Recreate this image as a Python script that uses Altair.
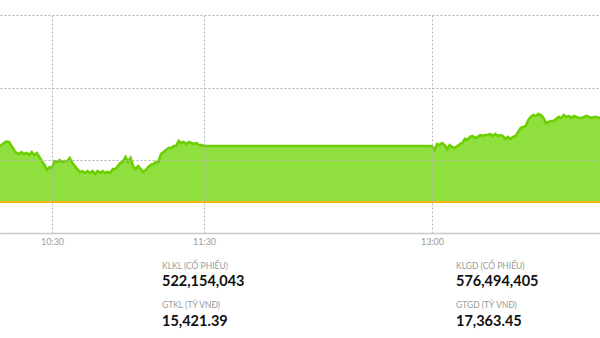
import altair as alt
import pandas as pd

# Intraday index readings (time, value)
times = [
    "10:09", "10:10", "10:11", "10:12", "10:13", "10:14", "10:15", "10:16", "10:17", "10:18", "10:19",
    "10:20", "10:21", "10:22", "10:23", "10:24", "10:25", "10:26", "10:27", "10:28", "10:29",
    "10:30", "10:31", "10:32", "10:33", "10:34", "10:35", "10:36", "10:37", "10:38", "10:39",
    "10:40", "10:41", "10:42", "10:43", "10:44", "10:45", "10:46", "10:47", "10:48", "10:49",
    "10:50", "10:51", "10:52", "10:53", "10:54", "10:55", "10:56", "10:57", "10:58", "10:59",
    "11:00", "11:01", "11:02", "11:03", "11:04", "11:05", "11:06", "11:07", "11:08", "11:09",
    "11:10", "11:11", "11:12", "11:13", "11:14", "11:15", "11:16", "11:17", "11:18", "11:19",
    "11:20", "11:21", "11:22", "11:23", "11:24", "11:25", "11:26", "11:27", "11:28", "11:29",
    "11:30", "13:00",
    "13:01", "13:02", "13:03", "13:04", "13:05", "13:06", "13:07", "13:08", "13:09", "13:10",
    "13:11", "13:12", "13:13", "13:14", "13:15", "13:16", "13:17", "13:18", "13:19", "13:20",
    "13:21", "13:22", "13:23", "13:24", "13:25", "13:26", "13:27", "13:28", "13:29", "13:30",
    "13:31", "13:32", "13:33", "13:34", "13:35", "13:36", "13:37", "13:38", "13:39", "13:40",
    "13:41", "13:42", "13:43", "13:44", "13:45", "13:46", "13:47", "13:48", "13:49", "13:50",
    "13:51", "13:52", "13:53", "13:54", "13:55", "13:56", "13:57", "13:58", "13:59", "14:00",
    "14:01", "14:02", "14:03", "14:04", "14:05", "14:06", "14:07",
]
values = [
    1180.92, 1181.05, 1181.19, 1181.30, 1181.26, 1180.99, 1180.71, 1180.50, 1180.44, 1180.57, 1180.44,
    1180.50, 1180.37, 1180.57, 1180.37, 1180.50, 1180.23, 1179.95, 1179.68, 1179.33, 1179.54,
    1179.47, 1179.95, 1179.89, 1180.02, 1179.89, 1179.95, 1179.95, 1180.16, 1179.82, 1179.61,
    1179.40, 1179.20, 1179.26, 1179.13, 1179.26, 1179.13, 1179.26, 1179.06, 1179.26, 1179.13,
    1179.26, 1179.13, 1179.20, 1179.13, 1179.40, 1179.40, 1179.61, 1179.82, 1179.89, 1180.23,
    1179.89, 1180.16, 1179.61, 1179.40, 1179.61, 1179.40, 1179.20, 1179.33, 1179.54, 1179.68,
    1179.75, 1179.89, 1179.89, 1180.44, 1180.57, 1180.71, 1180.85, 1180.85, 1180.99, 1180.99,
    1181.33, 1181.19, 1181.26, 1181.12, 1181.26, 1181.19, 1181.12, 1181.19, 1181.05, 1181.05,
    1180.99, 1180.99,
    1180.71, 1181.12, 1181.05, 1181.19, 1181.05, 1180.78, 1181.05, 1180.92, 1180.85, 1180.99,
    1181.12, 1181.19, 1181.47, 1181.40, 1181.61, 1181.67, 1181.54, 1181.61, 1181.74, 1181.67,
    1181.74, 1181.74, 1181.81, 1181.67, 1181.81, 1181.67, 1181.74, 1181.67, 1181.47, 1181.61,
    1181.47, 1181.61, 1181.67, 1181.95, 1182.22, 1182.29, 1182.36, 1182.77, 1182.98, 1183.12,
    1183.05, 1183.19, 1183.12, 1182.91, 1182.57, 1182.64, 1182.71, 1182.71, 1182.84, 1182.98,
    1182.91, 1183.12, 1182.98, 1183.05, 1182.91, 1183.05, 1182.98, 1182.91, 1182.91, 1182.98,
    1183.05, 1182.98, 1182.91, 1182.98, 1182.98, 1182.91, 1182.91,
]
reference_value = 1177.13
grid_values = [1175, 1180, 1185, 1190]
tick_labels = ["10:30", "11:30", "13:00"]

stat_labels_left = ["KLKL (CỔ PHIẾU)", "GTKL (TỶ VNĐ)"]
stat_values_left = ["522,154,043", "15,421.39"]
stat_labels_right = ["KLGD (CỔ PHIẾU)", "GTGD (TỶ VNĐ)"]
stat_values_right = ["576,494,405", "17,363.45"]


def to_min(s):
    h, m = s.split(":")
    return int(h) * 60 + int(m)


df = pd.DataFrame({"t": [to_min(t) for t in times], "v": values})
tick_vals = [to_min(t) for t in tick_labels]

x_scale = alt.Scale(domain=[609.47, 846.32], nice=False, zero=False)
y_scale = alt.Scale(domain=[grid_values[0], grid_values[-1]], nice=False, zero=False)

x_axis = alt.Axis(
    values=tick_vals,
    labelExpr="floor(datum.value/60) + ':' + (datum.value%60 < 10 ? '0' : '') + (datum.value%60)",
    title=None, ticks=False, tickSize=0, labelPadding=4,
    labelFont="Lato", labelFontSize=9, labelColor="#9a9a9a",
    domainColor="#c8c8c8", domainWidth=1.5,
    grid=True, gridColor="#b4b4b4", gridDash=[2, 2], gridWidth=1, zindex=1,
)
y_axis = alt.Axis(
    values=grid_values, labels=False, ticks=False, domain=False, title=None,
    grid=True, gridColor="#b4b4b4", gridDash=[2, 2], gridWidth=1, zindex=1,
)

base = alt.Chart(df)
area = base.mark_area(color="#8fe03f", clip=True).encode(
    x=alt.X("t:Q", scale=x_scale, axis=x_axis),
    y=alt.Y("v:Q", scale=y_scale, axis=y_axis),
    y2=alt.datum(reference_value),
)
line = base.mark_line(color="#6cd000", strokeWidth=2.6, clip=True).encode(
    x=alt.X("t:Q", scale=x_scale, axis=x_axis),
    y=alt.Y("v:Q", scale=y_scale, axis=y_axis),
)
ref = alt.Chart(pd.DataFrame({"r": [reference_value]})).mark_rule(
    color="#f2b50a", strokeWidth=2
).encode(
    y=alt.Y("r:Q", scale=y_scale, axis=y_axis),
    x=alt.value(0), x2=alt.value(600),
)

texts = []
one = pd.DataFrame({"a": [0]})
for col_x, labs, vals in [(162, stat_labels_left, stat_values_left),
                          (456, stat_labels_right, stat_values_right)]:
    for i in range(2):
        texts.append(
            alt.Chart(one).mark_text(
                align="left", baseline="middle", font="Lato", fontSize=8.5,
                color="#9a9a9a", text=labs[i]
            ).encode(x=alt.value(col_x), y=alt.value(251 + i * 39))
        )
        texts.append(
            alt.Chart(one).mark_text(
                align="left", baseline="middle", font="Lato", fontSize=14.5,
                fontWeight="bold", color="#111111", text=vals[i]
            ).encode(x=alt.value(col_x), y=alt.value(267 + i * 39.5))
        )

chart = alt.layer(area, line, ref, *texts).properties(
    width=600, height=218,
    padding={"left": 0, "top": 15, "right": 0, "bottom": 105},
    autosize=alt.AutoSizeParams(type="none"),
).configure_view(stroke=None)

chart.save("out.html", embed_options={"renderer": "svg", "actions": False})
